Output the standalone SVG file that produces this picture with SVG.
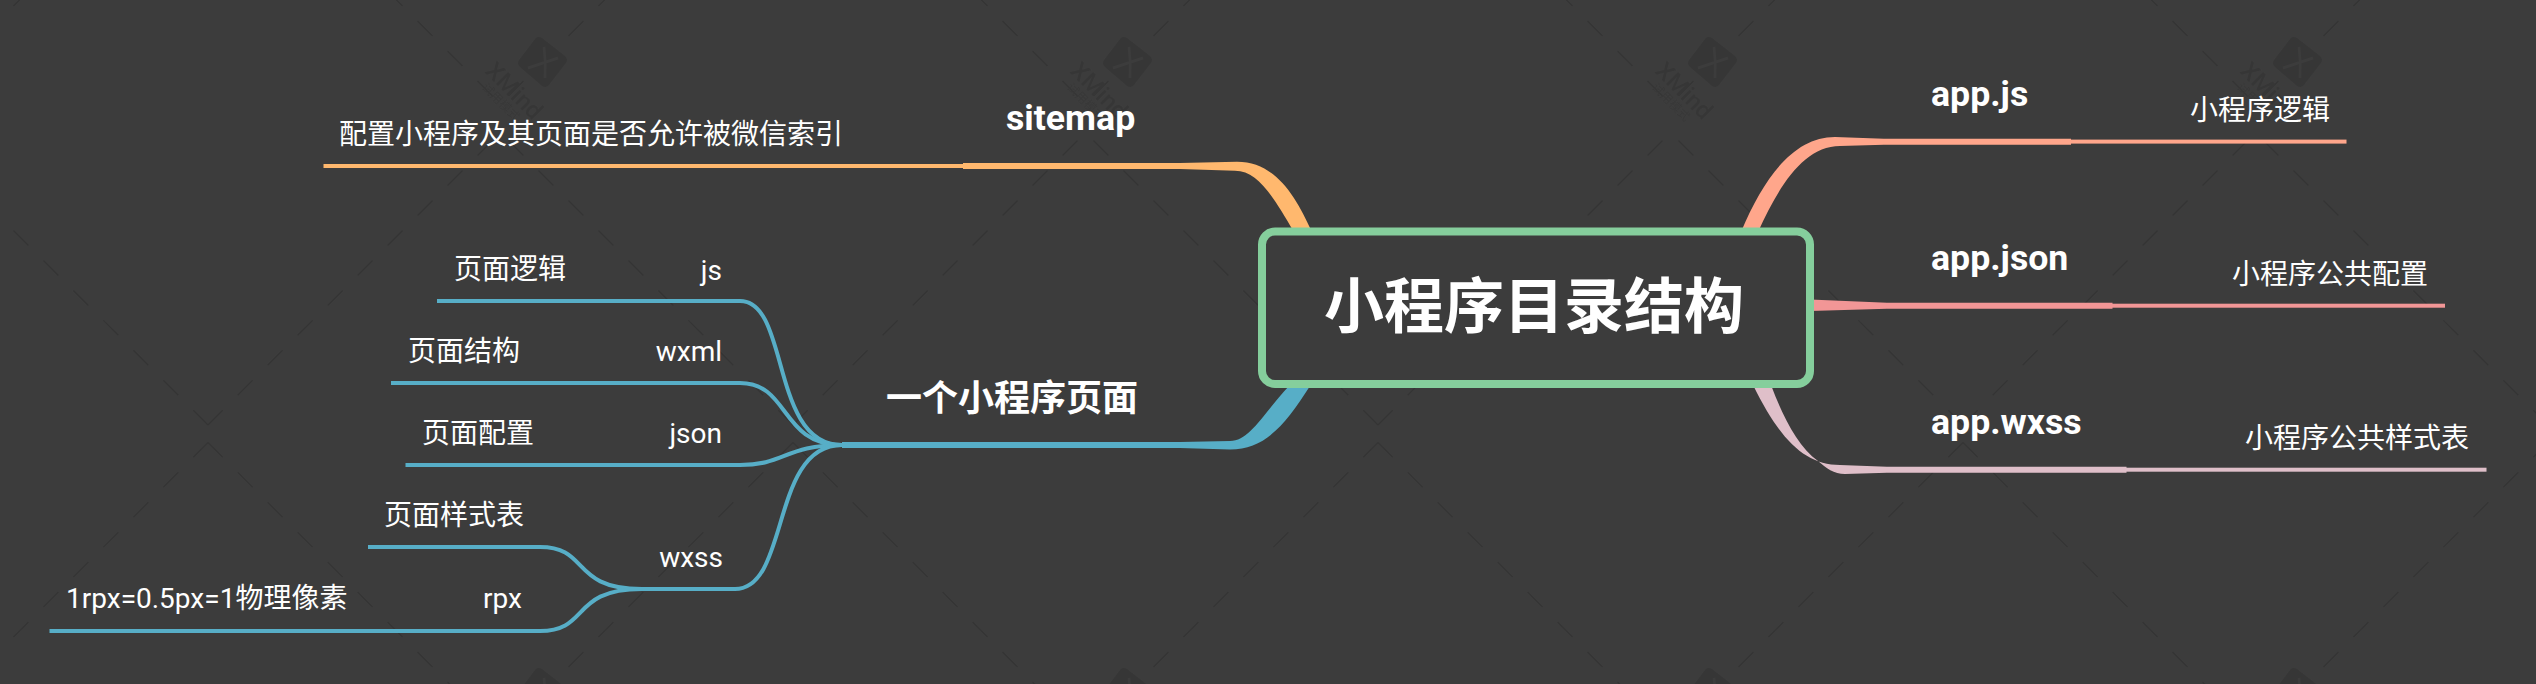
<svg xmlns="http://www.w3.org/2000/svg" width="2536" height="684" viewBox="0 0 2536 684">
<style>
text{font-family:"Roboto","Noto Sans CJK SC",sans-serif;fill:#fff}
.t{font-family:"Noto Sans CJK SC","Roboto",sans-serif;font-size:28px}
.r{font-family:"Roboto","Noto Sans CJK SC",sans-serif;font-size:28px}
.b{font-family:"Roboto","Noto Sans CJK SC",sans-serif;font-size:35.700px;font-weight:700}
.wl{fill:none;stroke:#343434;stroke-width:1.4;stroke-dasharray:21.2 21.2;stroke-dashoffset:-11.3}
.blue{fill:none;stroke:#57AEC7;stroke-width:4}
.or{fill:#FFB86E}.sa{fill:#FFA68B}.pk{fill:#F29696}.mv{fill:#DFBFC9}.bl{fill:#57AEC7}
</style>
<defs>
<pattern id="wm" patternUnits="userSpaceOnUse" x="208" y="0" width="585" height="631">
<path class="wl" d="M292.5 132.5L585 425"/>
<path class="wl" d="M292.5 132.5L0 425"/>
<path class="wl" d="M292.5 104L0 -188.5"/>
<path class="wl" d="M292.5 104L585 -188.5"/>
<path class="wl" d="M292.5 735L0 442.5"/>
<path class="wl" d="M292.5 735L585 442.5"/>
<path d="M331 42L354 60L337 82L315 63Z" fill="#363636" stroke="#363636" stroke-width="10" stroke-linejoin="round"/>
<path d="M336 47Q338 62 337 78M320 68L350 58" fill="none" stroke="#3C3C3C" stroke-width="2.500"/>
<text transform="translate(276 72) rotate(45)" font-size="24" font-weight="500" style="fill:#363636">XMind</text>
<text transform="translate(273 88) rotate(45)" font-size="12" style="fill:#373737;font-family:'Noto Sans CJK SC',sans-serif">试用模式</text>
</pattern>
</defs>
<rect id="background" width="2536" height="684" fill="#3C3C3C"/>
<rect id="watermark" width="2536" height="684" fill="url(#wm)"/>
<g id="connectors">
<path class="sa" d="M1741 232C1765 175 1795 137 1835 137L1884 138.7H2071V144.7H1884L1840 146C1803 146 1778 188 1758 232Z"/>
<rect class="sa" x="2070" y="139.600" width="276.500" height="4"/>
<path class="pk" d="M1810 299.500L1887 302.700H2112.500V308.700H1887L1810 311Z"/>
<rect class="pk" x="2112" y="303.700" width="333" height="4"/>
<path class="mv" d="M1753 385C1780 440 1805 465 1840 465L1887 466.700H2126.500V472.700H1887L1845 474C1834 474 1826 468 1818 461C1798 447 1783 417 1771 385Z"/>
<rect class="mv" x="2126" y="467.700" width="360.500" height="4"/>
<path class="or" d="M963 163H1180L1237 161.700C1275 161.700 1295 195 1312 232H1294C1272 195 1258 171 1235 170.700L1180 169H963Z"/>
<rect class="or" x="323.500" y="164" width="640" height="4"/>
<path class="bl" d="M842 442H1180L1230 441C1250 441 1262 415 1289 386H1310C1285 425 1265 449.500 1230 449.500L1180 448H842Z"/>
<path class="blue" d="M437 301H740C790 301 770 445 842 445"/>
<path class="blue" d="M391 383H740C790 383 780 445 842 445"/>
<path class="blue" d="M405.500 465H740C785 465 785 445 842 445"/>
<path class="blue" d="M642 589H735C790 589 770 445 842 445"/>
<path class="blue" d="M368 547H540C590 547 570 589 642 589"/>
<path class="blue" d="M49.500 631H540C590 631 570 589 642 589"/>
</g>
<g id="root"><rect x="1262" y="231.500" width="548" height="152.500" rx="13" fill="#3C3C3C" stroke="#85CE9C" stroke-width="8"/>
<text x="1324" y="328" style="font-family:'Noto Sans CJK SC',sans-serif;font-size:60px;font-weight:700">小程序目录结构</text></g>
<g id="app-js"><text class="b" x="1931" y="106">app.js</text></g>
<g id="app-js-desc"><text class="t" x="2190" y="120">小程序逻辑</text></g>
<g id="app-json"><text class="b" x="1931" y="270">app.json</text></g>
<g id="app-json-desc"><text class="t" x="2232" y="284">小程序公共配置</text></g>
<g id="app-wxss"><text class="b" x="1931" y="434">app.wxss</text></g>
<g id="app-wxss-desc"><text class="t" x="2245" y="448">小程序公共样式表</text></g>
<g id="sitemap"><text class="b" x="1006" y="130">sitemap</text></g>
<g id="sitemap-desc"><text class="t" x="339" y="144">配置小程序及其页面是否允许被微信索引</text></g>
<g id="page"><text x="886" y="411" style="font-family:'Noto Sans CJK SC',sans-serif;font-size:36px;font-weight:700">一个小程序页面</text></g>
<g id="js"><text class="r" x="722" y="280" text-anchor="end">js</text></g>
<g id="js-desc"><text class="t" x="454" y="279">页面逻辑</text></g>
<g id="wxml"><text class="r" x="722" y="361" text-anchor="end">wxml</text></g>
<g id="wxml-desc"><text class="t" x="408" y="361">页面结构</text></g>
<g id="json"><text class="r" x="722" y="443" text-anchor="end">json</text></g>
<g id="json-desc"><text class="t" x="422" y="443">页面配置</text></g>
<g id="wxss"><text class="r" x="723" y="567" text-anchor="end">wxss</text></g>
<g id="wxss-desc"><text class="t" x="384" y="525">页面样式表</text></g>
<g id="rpx"><text class="r" x="522" y="608" text-anchor="end">rpx</text></g>
<g id="rpx-desc"><text class="t" x="66" y="608"><tspan style="font-family:Roboto,sans-serif;font-size:28px">1rpx=0.5px=1</tspan>物理像素</text></g>
</svg>
